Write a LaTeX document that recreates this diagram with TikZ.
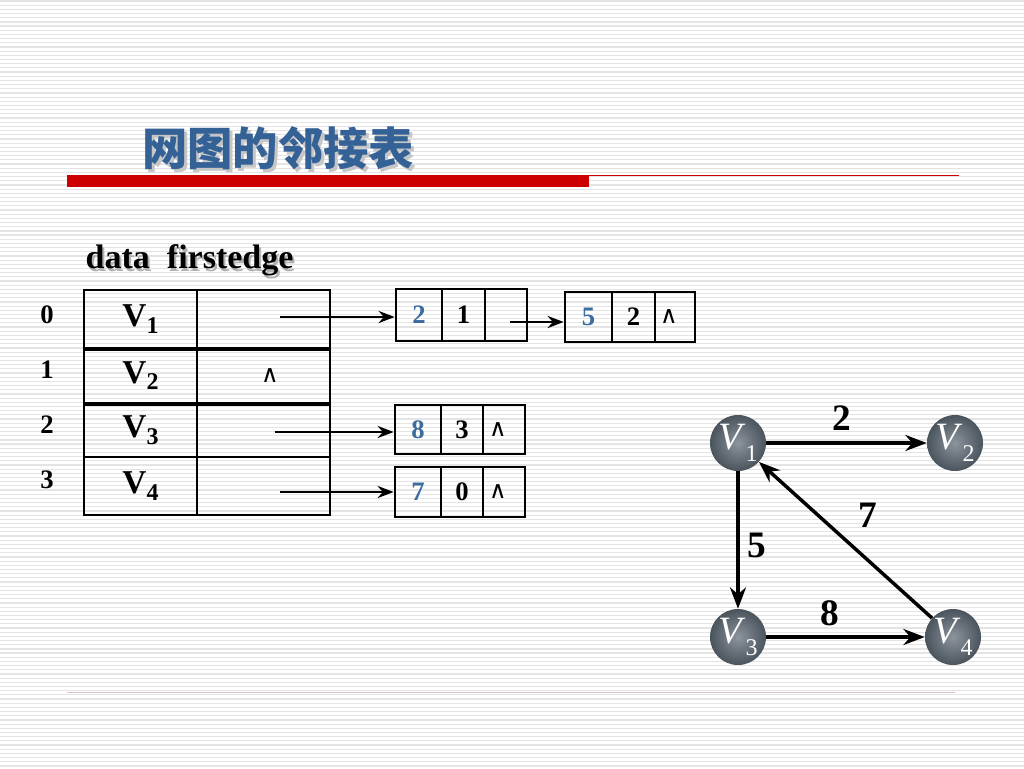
\documentclass[tikz,border=0pt]{standalone}
\usepackage{fontspec}
\setmainfont{Liberation Serif}
\newfontfamily\cjk{Noto Sans CJK SC}
\newfontfamily\dejavu{DejaVu Sans}
\usetikzlibrary{arrows.meta}
\definecolor{numblue}{RGB}{58,108,160}
\definecolor{titleblue}{RGB}{52,98,150}
\definecolor{barred}{RGB}{204,0,0}
\definecolor{stripe}{RGB}{228,228,228}
\definecolor{nodeouter}{RGB}{74,84,92}
\definecolor{nodeinner}{RGB}{140,148,156}
\definecolor{bottomline}{RGB}{215,195,195}
\newcommand{\vsb}[2]{#1\raisebox{-5pt}{\fontsize{18}{18}\selectfont #2}}
\newcommand{\vsg}[2]{\textit{#1}\raisebox{-9pt}{\fontsize{18}{18}\selectfont #2}}
\newcommand{\wedgech}{{\dejavu\mdseries\fontsize{18}{18}\selectfont ∧}}
\newcommand{\wedgeleft}{\wedgech\hspace*{9pt}}
\begin{document}
\begin{tikzpicture}[x=0.75pt,y=-0.75pt,
  tw/.style={minimum width=#1*0.75pt},
  th/.style={minimum height=#1*0.75pt},
  tcell/.style={draw, line width=2pt, inner sep=0pt, font=\bfseries\fontsize{25}{25}\selectfont},
  lcell/.style={draw, line width=2pt, inner sep=0pt, font=\bfseries\fontsize{20}{20}\selectfont},
  blue num/.style={text=numblue},
  idx/.style={font=\bfseries\fontsize{20}{20}\selectfont},
  ptr/.style={line width=2.2pt, -{Stealth[length=12pt,width=9pt]}},
  gnode/.style={circle, minimum size=42pt, inner sep=0pt, inner color=nodeinner, outer color=nodeouter, text=white, font=\fontsize{29}{29}\selectfont},
  gedge/.style={line width=2.6pt, -{Stealth[length=16pt,width=12pt]}},
  wlabel/.style={font=\bfseries\fontsize{28}{28}\selectfont}
]
\useasboundingbox (0,0) rectangle (1024,768);
\fill[white] (0,0) rectangle (1024,768);
\foreach \i in {0,...,183} {
  \draw[stripe, line width=0.9pt] (0,\i*4.18+1) -- (1024,\i*4.18+1);
}
% title
\node[font=\cjk\bfseries\fontsize{34}{34}\selectfont, text=gray!45] (titleshadow) at (281,151) {网图的邻接表};
\node[font=\cjk\bfseries\fontsize{34}{34}\selectfont, text=titleblue] (title) at (278,148) {网图的邻接表};
\fill[barred] (67,175) rectangle (589,187);
\draw[barred, line width=0.75pt] (589,175.5) -- (959,175.5);
\draw[bottomline, line width=0.75pt] (67,692) -- (955,692);

% header
\node[anchor=west, font=\bfseries\fontsize{25.5}{25.5}\selectfont, text=gray!60] (hdrshadow) at (83,263) {data\ \ firstedge};
\node[anchor=west, font=\bfseries\fontsize{25.5}{25.5}\selectfont] (hdr) at (81,260) {data\ \ firstedge};

% index labels
\node[idx] (i0) at (47,315) {0};
\node[idx] (i1) at (47,370) {1};
\node[idx] (i2) at (47,425) {2};
\node[idx] (i3) at (47,480) {3};

% vertex table
\node[tcell, tw=113, th=58] (d0) at (140.5,319) {\vsb{V}{1}};
\node[tcell, tw=133, th=58] (f0) at (263.5,319) {};
\node[tcell, tw=113, th=55] (d1) at (140.5,375.5) {\vsb{V}{2}};
\node[tcell, tw=133, th=55] (f1) at (263.5,375.5) {};
\node[tcell, tw=113, th=54] (d2) at (140.5,430) {\vsb{V}{3}};
\node[tcell, tw=133, th=54] (f2) at (263.5,430) {};
\node[tcell, tw=113, th=58] (d3) at (140.5,486) {\vsb{V}{4}};
\node[tcell, tw=133, th=58] (f3) at (263.5,486) {};
\draw[line width=3.2pt] (d0.south west) -- (f0.south east);
\draw[line width=3.2pt] (d1.south west) -- (f1.south east);
\node (nil1) at (270,376) {\wedgech};

% edge lists
\node[lcell, blue num, tw=46, th=52] (a1) at (419,315) {2};
\node[lcell, tw=43, th=52] (a2) at (463.5,315) {1};
\node[lcell, tw=42, th=52] (a3) at (506,315) {};
\node[lcell, blue num, tw=47, th=50] (b1) at (588.5,317) {5};
\node[lcell, tw=43, th=50] (b2) at (633.5,317) {2};
\node[lcell, tw=40, th=50] (b3) at (675,317) {\wedgeleft};
\node[lcell, blue num, tw=46, th=49] (c1) at (418,429.5) {8};
\node[lcell, tw=42, th=49] (c2) at (462,429.5) {3};
\node[lcell, tw=42, th=49] (c3) at (504,429.5) {\wedgeleft};
\node[lcell, blue num, tw=46, th=50] (e1) at (418,492) {7};
\node[lcell, tw=42, th=50] (e2) at (462,492) {0};
\node[lcell, tw=42, th=50] (e3) at (504,492) {\wedgeleft};

% pointers
\coordinate (p0) at (280,317);
\coordinate (p2) at (275,432);
\coordinate (p3) at (280,492);
\coordinate (q1) at (510,322);
\draw[ptr] (p0) -- (p0 -| a1.west);
\draw[ptr] (p2) -- (p2 -| c1.west);
\draw[ptr] (p3) -- (p3 -| e1.west);
\draw[ptr] (q1) -- (q1 -| b1.west);

% graph
\node[gnode] (g1) at (738,443) {\vsg{V}{1}};
\node[gnode] (g2) at (955,443) {\vsg{V}{2}};
\node[gnode] (g3) at (738,637) {\vsg{V}{3}};
\node[gnode] (g4) at (953,637) {\vsg{V}{4}};
\draw[gedge] (g1) -- (g2);
\draw[gedge] (g1) -- (g3);
\draw[gedge] (g3) -- (g4);
\draw[gedge] (g4) -- (g1);
\node[wlabel] (w12) at (842,418) {2};
\node[wlabel] (w13) at (757,545) {5};
\node[wlabel] (w34) at (830,613) {8};
\node[wlabel] (w41) at (868,515) {7};
\end{tikzpicture}
\end{document}
